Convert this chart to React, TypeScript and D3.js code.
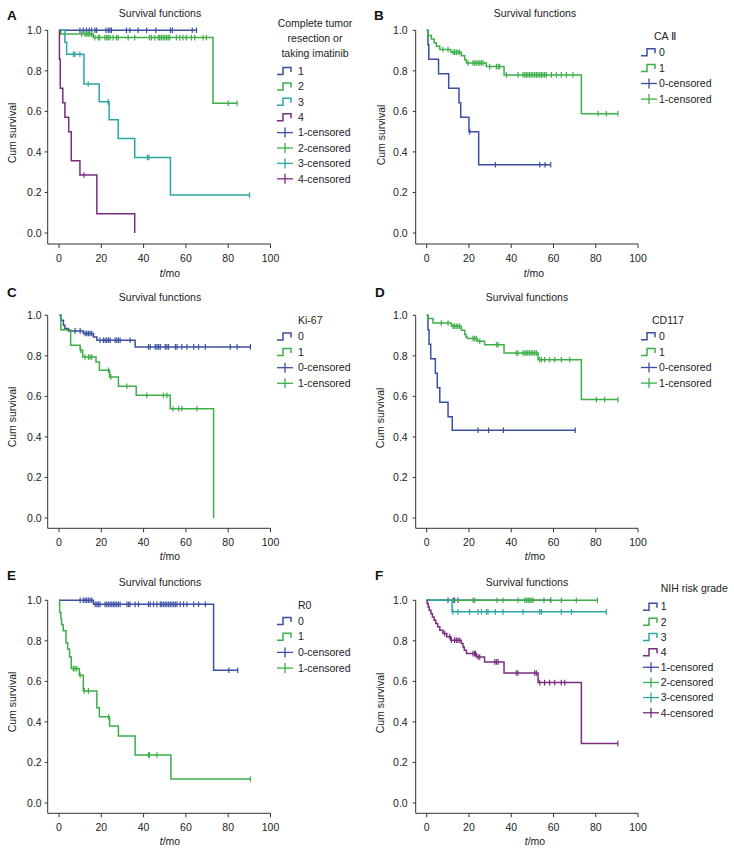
import React from "react";
import * as d3 from "d3";

const FONT = "'Liberation Sans', Arial, sans-serif";
const BLUE = "#3b4fa1";
const GREEN = "#3dae48";
const TEAL = "#2ba6a4";
const PURPLE = "#7a2c80";

const xTicks = [0, 20, 40, 60, 80, 100];
const yTicks = [0, 0.2, 0.4, 0.6, 0.8, 1.0];
const plotTitle = "Survival functions";
const yLabel = "Cum survival";

// ---------- Panel A: Complete tumor resection or taking imatinib ----------
const aSteps1 = [[0, 1], [65, 1]];
const aCens1 = [9.9, 11.5, 13, 14.3, 15.4, 17, 17.8, 22.2, 23.3, 24.1, 24.8, 31.9, 33.5, 37.4, 41.4, 45.8, 52.7, 53.6, 63, 65];
const aSteps2 = [[0, 1], [0.8, 0.982], [16.2, 0.964], [72.8, 0.64], [84.2, 0.64]];
const aCens2 = [10.7, 12.3, 13.1, 13.8, 14.6, 15.4, 17, 18.6, 19.3, 21.7, 22.5, 23.3, 24.1, 25.6, 27.2, 28, 32.7, 35.8, 42.9, 43.7, 45.3, 46.9, 47.6, 48.4, 49.2, 50, 50.8, 51.6, 52.4, 55.5, 57.1, 58.6, 60.2, 62.6, 64.2, 68.1, 69.7, 80, 84.2];
const aSteps3 = [[0, 1], [2.8, 0.941], [3.6, 0.882], [11.8, 0.735], [19, 0.647], [23.7, 0.559], [28, 0.466], [35.8, 0.373], [52.7, 0.187], [90.1, 0.187]];
const aCens3 = [6.8, 7.5, 9.9, 13.8, 23.2, 41.8, 42.5, 90.1];
const aSteps4 = [[0, 1], [0.2, 0.857], [0.6, 0.714], [1.8, 0.643], [2.8, 0.571], [4.6, 0.5], [5.8, 0.357], [9.9, 0.286], [17.9, 0.095], [35.8, 0]];
const aCens4 = [11.8];
const aLegendTitle = ["Complete tumor", "resection or", "taking imatinib"];

// ---------- Panel B: CA II ----------
const bSteps0 = [[0, 1], [0.6, 0.929], [1, 0.857], [5.6, 0.786], [10.4, 0.714], [15.3, 0.643], [16.1, 0.571], [20, 0.5], [24.6, 0.337], [58.7, 0.337]];
const bCens0 = [20.4, 32.5, 53.5, 56, 58.7];
const bSteps1 = [[0, 1], [0.6, 0.974], [2.2, 0.957], [3.5, 0.938], [4.6, 0.921], [6.2, 0.905], [11.4, 0.892], [16.4, 0.875], [18, 0.855], [18.8, 0.839], [28.2, 0.821], [36.6, 0.78], [73.2, 0.588], [90.5, 0.588]];
const bCens1 = [7.7, 10.1, 12.5, 13.2, 14, 14.8, 15.6, 19.6, 21.9, 22.7, 23.5, 24.3, 25.1, 25.9, 26.7, 29.8, 33, 33.8, 34.5, 37.7, 43.2, 45.6, 46.4, 47.2, 47.9, 48.7, 49.5, 50.3, 51.1, 51.9, 52.7, 53.5, 54.3, 55, 55.8, 56.6, 59, 61.4, 63.7, 66.1, 69.2, 81.1, 85, 90.5];
const bLegendTitle = ["CA \u2161"];

// ---------- Panel C: Ki-67 ----------
const cSteps0 = [[0, 1], [0.9, 0.975], [2.1, 0.951], [2.8, 0.935], [4.4, 0.923], [11.5, 0.91], [16.3, 0.893], [17.9, 0.877], [36, 0.844], [90.5, 0.844]];
const cCens0 = [7.6, 10, 12.3, 13.1, 13.9, 14.7, 15.5, 19.4, 21, 21.8, 22.6, 23.4, 24.2, 26.5, 27.3, 28.1, 28.9, 33.6, 42.3, 43.1, 45.5, 46.3, 47.1, 47.9, 50.2, 51, 51.8, 55, 55.8, 58.1, 60.5, 63.7, 66, 69.2, 81, 84.2, 90.5];
const cSteps1 = [[0, 1], [0.9, 0.929], [5.5, 0.852], [10, 0.827], [11.2, 0.794], [17.5, 0.77], [19.1, 0.729], [23.9, 0.696], [28.1, 0.65], [36.5, 0.605], [52.6, 0.539], [73.1, 0]];
const cCens1 = [10.3, 12.3, 13.9, 14.7, 15.5, 23.4, 24.5, 32.1, 41.5, 49.4, 51, 53.9, 56.6, 58.1, 65.2];
const cLegendTitle = ["Ki-67"];

// ---------- Panel D: CD117 ----------
const dSteps0 = [[0, 1], [0.6, 0.929], [1.1, 0.857], [1.9, 0.786], [4.1, 0.714], [5, 0.643], [6.2, 0.571], [10.1, 0.5], [12.1, 0.433], [70.3, 0.433]];
const dCens0 = [24.3, 29.3, 36.3, 70.3];
const dSteps1 = [[0, 1], [0.6, 0.984], [3, 0.962], [11.7, 0.946], [16.4, 0.926], [18, 0.905], [18.6, 0.893], [19.2, 0.885], [24, 0.872], [27.4, 0.855], [36.6, 0.814], [52.7, 0.781], [73.2, 0.584], [90.5, 0.584]];
const dCens1 = [6.9, 10.1, 12.5, 13.2, 14, 14.8, 15.6, 21.9, 22.7, 23.5, 25.1, 33, 33.8, 42.4, 43.2, 45.6, 46.4, 47.2, 47.9, 48.7, 49.5, 50.3, 51.1, 51.9, 53.5, 54.3, 55.8, 58.2, 60.6, 63.7, 67.7, 80.3, 84.2, 90.5];
const dLegendTitle = ["CD117"];

// ---------- Panel E: R0 ----------
const eSteps0 = [[0, 1], [16.3, 0.98], [73.1, 0.655], [84.5, 0.655]];
const eCens0 = [10, 11.5, 12.3, 13.1, 13.9, 14.7, 15.5, 17.1, 17.9, 18.6, 19.4, 21.8, 22.6, 23.4, 24.2, 25, 25.8, 26.5, 27.3, 28.1, 28.9, 32.1, 32.9, 33.6, 36, 37.6, 42.3, 43.1, 44.7, 46.3, 47.9, 48.6, 49.4, 50.2, 51, 51.8, 52.6, 53.4, 54.2, 55, 55.8, 57.3, 58.9, 60.5, 63.7, 66, 69.2, 80.3, 84.5];
const eSteps1 = [[0, 1], [0.3, 0.94], [0.9, 0.91], [1.2, 0.88], [2, 0.85], [3.3, 0.79], [4.1, 0.76], [5, 0.72], [5.8, 0.663], [9.6, 0.63], [11.5, 0.553], [17.9, 0.47], [19.1, 0.425], [23.9, 0.38], [28.1, 0.33], [36, 0.237], [52.9, 0.118], [90.5, 0.118]];
const eCens1 = [6.8, 7.6, 8.4, 10, 12, 13.9, 23.4, 42.3, 42.8, 46.3, 90.5];
const eLegendTitle = ["R0"];

// ---------- Panel F: NIH risk grade ----------
const fSteps1 = [[0, 1], [58.7, 1]];
const fCens1 = [10.1, 12.5, 13.2, 14.8, 58.7];
const fSteps2 = [[0, 1], [80.8, 1]];
const fCens2 = [21.9, 22.7, 33.3, 36.1, 43.2, 46.4, 47.2, 48, 48.7, 49.5, 50.3, 55.5, 63.7, 70.8, 80.8];
const fSteps3 = [[0, 1], [12, 0.943], [85, 0.943]];
const fCens3 = [12.4, 14.8, 20.3, 24.3, 25.9, 28.2, 29, 32.5, 36.1, 45.6, 53.5, 54.3, 63.7, 68.5, 85];
const fSteps4 = [[0, 1], [0.2, 0.984], [0.7, 0.967], [1.2, 0.951], [2, 0.934], [2.7, 0.918], [3.5, 0.902], [4.3, 0.885], [5.2, 0.869], [6.2, 0.852], [7.7, 0.836], [9.5, 0.82], [11.4, 0.803], [16.4, 0.787], [17.2, 0.77], [17.8, 0.754], [18.8, 0.737], [23.5, 0.72], [27.4, 0.696], [36.6, 0.641], [52.7, 0.594], [73.2, 0.293], [90.5, 0.293]];
const fCens4 = [8.5, 10.9, 11.7, 13.2, 14, 14.8, 15.6, 21.9, 22.7, 23.1, 24.3, 25.1, 32.2, 33, 33.8, 42.4, 43.2, 51.1, 51.9, 53.5, 55.8, 58.2, 60.6, 63.7, 65.3, 90.5];
const fLegendTitle = ["NIH risk grade"];

type Series = { name: string; color: string; steps: number[][]; cens: number[] };
type Layout = {
  letter: string; lx: number; ly: number;
  x0: number; x100: number; yt: number; yb: number; axL: number; axB: number; tickGap: number;
  titleX: number; titleY: number;
  ylx: number; yly: number; xlx: number; xly: number;
  legX: number; legAnchor: string; legY: number; legDy: number;
  symX: number; labX: number; itemY0: number; itemDy: number;
};

const panels: { L: Layout; legendTitle: string[]; series: Series[] }[] = [
  {
    L: { letter: "A", lx: 7, ly: 20, x0: 59, x100: 270.5, yt: 30.3, yb: 233, axL: 47.7, axB: 244, tickGap: 6,
      titleX: 160, titleY: 16.5, ylx: 12, yly: 133, xlx: 170, xly: 277,
      legX: 315, legAnchor: "middle", legY: 27, legDy: 15, symX: 277, labX: 298, itemY0: 71, itemDy: 15.4 },
    legendTitle: aLegendTitle,
    series: [
      { name: "1", color: BLUE, steps: aSteps1, cens: aCens1 },
      { name: "2", color: GREEN, steps: aSteps2, cens: aCens2 },
      { name: "3", color: TEAL, steps: aSteps3, cens: aCens3 },
      { name: "4", color: PURPLE, steps: aSteps4, cens: aCens4 },
    ],
  },
  {
    L: { letter: "B", lx: 374, ly: 20, x0: 426.7, x100: 638, yt: 30.3, yb: 233, axL: 415.7, axB: 244, tickGap: 8,
      titleX: 535, titleY: 16.5, ylx: 381, yly: 135, xlx: 534, xly: 277,
      legX: 654, legAnchor: "start", legY: 40, legDy: 15, symX: 641, labX: 659, itemY0: 52.3, itemDy: 15.6 },
    legendTitle: bLegendTitle,
    series: [
      { name: "0", color: BLUE, steps: bSteps0, cens: bCens0 },
      { name: "1", color: GREEN, steps: bSteps1, cens: bCens1 },
    ],
  },
  {
    L: { letter: "C", lx: 7, ly: 297, x0: 59, x100: 270.5, yt: 315.3, yb: 518, axL: 47.7, axB: 528.3, tickGap: 6,
      titleX: 160, titleY: 300.5, ylx: 12, yly: 417, xlx: 170, xly: 560,
      legX: 298, legAnchor: "start", legY: 324, legDy: 15, symX: 277, labX: 298, itemY0: 336.5, itemDy: 15.6 },
    legendTitle: cLegendTitle,
    series: [
      { name: "0", color: BLUE, steps: cSteps0, cens: cCens0 },
      { name: "1", color: GREEN, steps: cSteps1, cens: cCens1 },
    ],
  },
  {
    L: { letter: "D", lx: 375, ly: 297, x0: 426.7, x100: 638, yt: 315.3, yb: 518, axL: 415.7, axB: 528.3, tickGap: 8,
      titleX: 527, titleY: 300.5, ylx: 380, yly: 418, xlx: 535, xly: 560,
      legX: 652, legAnchor: "start", legY: 324, legDy: 15, symX: 641, labX: 659, itemY0: 336.3, itemDy: 15.6 },
    legendTitle: dLegendTitle,
    series: [
      { name: "0", color: BLUE, steps: dSteps0, cens: dCens0 },
      { name: "1", color: GREEN, steps: dSteps1, cens: dCens1 },
    ],
  },
  {
    L: { letter: "E", lx: 7, ly: 580, x0: 59, x100: 270.5, yt: 600.3, yb: 803, axL: 47.7, axB: 813.3, tickGap: 6,
      titleX: 160, titleY: 585.5, ylx: 12, yly: 702, xlx: 170, xly: 845,
      legX: 298, legAnchor: "start", legY: 609, legDy: 15, symX: 277, labX: 298, itemY0: 621, itemDy: 15.7 },
    legendTitle: eLegendTitle,
    series: [
      { name: "0", color: BLUE, steps: eSteps0, cens: eCens0 },
      { name: "1", color: GREEN, steps: eSteps1, cens: eCens1 },
    ],
  },
  {
    L: { letter: "F", lx: 375, ly: 580, x0: 426.7, x100: 638, yt: 600.3, yb: 803, axL: 415.7, axB: 813.3, tickGap: 8,
      titleX: 527, titleY: 585.5, ylx: 380, yly: 703, xlx: 535, xly: 845,
      legX: 660.7, legAnchor: "start", legY: 592, legDy: 15, symX: 643, labX: 660.7, itemY0: 606.7, itemDy: 15.15 },
    legendTitle: fLegendTitle,
    series: [
      { name: "1", color: BLUE, steps: fSteps1, cens: fCens1 },
      { name: "2", color: GREEN, steps: fSteps2, cens: fCens2 },
      { name: "3", color: TEAL, steps: fSteps3, cens: fCens3 },
      { name: "4", color: PURPLE, steps: fSteps4, cens: fCens4 },
    ],
  },
];

const FS = 10.5;
const AXIS_COLOR = "#333";
const LW = 1.5;

function survAt(steps: number[][], t: number) {
  let s = 1;
  for (const [tt, ss] of steps) if (tt <= t) s = ss;
  return s;
}

function Panel({ p }: { p: (typeof panels)[number] }) {
  const L = p.L;
  const x = d3.scaleLinear().domain([0, 100]).range([L.x0, L.x100]);
  const y = d3.scaleLinear().domain([0, 1]).range([L.yb, L.yt]);
  const line = d3
    .line<number[]>()
    .x((d) => x(d[0]))
    .y((d) => y(d[1]))
    .curve(d3.curveStepAfter);
  const fmtY = d3.format(".1f");
  const items: { label: string; color: string; kind: "step" | "cens" }[] = [
    ...p.series.map((s) => ({ label: s.name, color: s.color, kind: "step" as const })),
    ...p.series.map((s) => ({ label: s.name + "-censored", color: s.color, kind: "cens" as const })),
  ];
  return (
    <g>
      <text x={L.lx} y={L.ly} fontSize={13.5} fontWeight="bold" fontFamily={FONT} fill="#111">
        {L.letter}
      </text>
      <text x={L.titleX} y={L.titleY} fontSize={FS} textAnchor="middle" fontFamily={FONT} fill="#222">
        {plotTitle}
      </text>
      {/* axes */}
      <path
        d={`M${L.axL},${y(1)}V${L.axB}H${x(100)}`}
        fill="none"
        stroke={AXIS_COLOR}
        strokeWidth={1}
      />
      {yTicks.map((v) => (
        <g key={"y" + v}>
          <line x1={L.axL - 3} x2={L.axL} y1={y(v)} y2={y(v)} stroke={AXIS_COLOR} />
          <text x={L.axL - L.tickGap} y={y(v)} dy="0.35em" textAnchor="end" fontSize={FS} fontFamily={FONT} fill="#222">
            {fmtY(v)}
          </text>
        </g>
      ))}
      {xTicks.map((v) => (
        <g key={"x" + v}>
          <line x1={x(v)} x2={x(v)} y1={L.axB} y2={L.axB + 4} stroke={AXIS_COLOR} />
          <text x={x(v)} y={L.axB + 17.5} textAnchor="middle" fontSize={FS} fontFamily={FONT} fill="#222">
            {v}
          </text>
        </g>
      ))}
      <text
        transform={`translate(${L.ylx},${L.yly}) rotate(-90)`}
        dy="0.35em"
        textAnchor="middle"
        fontSize={FS}
        fontFamily={FONT}
        fill="#222"
      >
        {yLabel}
      </text>
      <text x={L.xlx} y={L.xly} textAnchor="middle" fontSize={FS} fontFamily={FONT} fill="#222">
        <tspan fontStyle="italic">t</tspan>/mo
      </text>
      {/* curves */}
      {p.series.map((s, i) => (
        <g key={"s" + i}>
          <path d={line(s.steps) || ""} fill="none" stroke={s.color} strokeWidth={LW} />
          {s.cens.map((t, j) => {
            const sv = survAt(s.steps, t);
            return (
              <line
                key={j}
                x1={x(t)}
                x2={x(t)}
                y1={y(sv) - 2.8}
                y2={y(sv) + 2.8}
                stroke={s.color}
                strokeWidth={1.2}
              />
            );
          })}
        </g>
      ))}
      {/* legend */}
      {p.legendTitle.map((t, i) => (
        <text
          key={"lt" + i}
          x={L.legX}
          y={L.legY + i * L.legDy}
          textAnchor={L.legAnchor as any}
          fontSize={FS}
          fontFamily={FONT}
          fill="#222"
        >
          {t}
        </text>
      ))}
      {items.map((it, i) => {
        const cy = L.itemY0 + i * L.itemDy;
        return (
          <g key={"li" + i}>
            {it.kind === "step" ? (
              <path
                d={`M${L.symX},${cy + 3.5}H${L.symX + 6}V${cy - 3.5}H${L.symX + 14}V${cy + 1}`}
                fill="none"
                stroke={it.color}
                strokeWidth={1.5}
              />
            ) : (
              <g stroke={it.color} strokeWidth={1.3}>
                <line x1={L.symX} x2={L.symX + 16} y1={cy} y2={cy} />
                <line x1={L.symX + 8} x2={L.symX + 8} y1={cy - 5} y2={cy + 5} />
              </g>
            )}
            <text x={L.labX} y={cy} dy="0.36em" fontSize={FS} fontFamily={FONT} fill="#222">
              {it.label}
            </text>
          </g>
        );
      })}
    </g>
  );
}

export default function App() {
  return (
    <svg
      width={734}
      height={853}
      style={{ position: "absolute", left: 0, top: 0, display: "block", background: "#fff" }}
    >
      <rect x={0} y={0} width={734} height={853} fill="#fff" />
      {panels.map((p, i) => (
        <Panel key={i} p={p} />
      ))}
    </svg>
  );
}
